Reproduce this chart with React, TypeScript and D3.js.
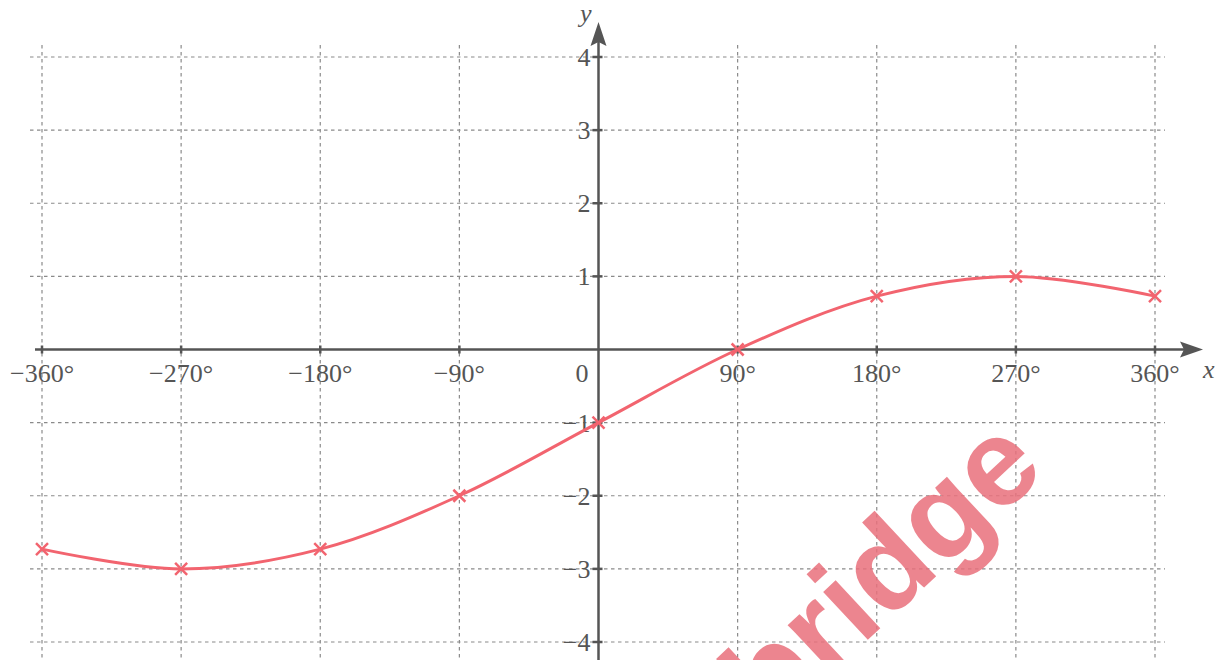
import React from "react";
import * as d3 from "d3";

// Sampled points of the plotted curve (degrees, y)
const xValues = [-360, -270, -180, -90, 0, 90, 180, 270, 360];
const yValues = [-2.73, -3, -2.73, -2, -1, 0, 0.73, 1, 0.73];

// Grid / tick positions
const xTicks = [-360, -270, -180, -90, 90, 180, 270, 360];
const yTicks = [-4, -3, -2, -1, 1, 2, 3, 4];

const W = 1225;
const H = 660;

const x = d3.scaleLinear().domain([-360, 360]).range([42, 1155]);
const y = d3.scaleLinear().domain([-4, 4]).range([642, 57]);

const fmtX = (v: number) => (v < 0 ? "\u2212" + Math.abs(v) : String(v)) + "\u00B0";
const fmtY = (v: number) => (v < 0 ? "\u2212" + Math.abs(v) : String(v));

export default function App() {
  const pts = xValues.map((v, i) => [x(v), y(yValues[i])] as [number, number]);
  const path = d3.line().curve(d3.curveCatmullRom.alpha(0.5))(pts) || "";
  const x0 = x(0);
  const y0 = y(0);
  const gridColor = "#8a8a8a";
  const axisColor = "#555";
  const labelColor = "#555";
  const font = "'Liberation Serif', 'DejaVu Serif', serif";
  const red = "#f2646f";

  return (
    <svg
      width={W}
      height={H}
      style={{ position: "absolute", left: 0, top: 0, background: "#fff" }}
    >
      {/* grid */}
      <g stroke={gridColor} strokeWidth={1.2} strokeDasharray="3.5 3.5" fill="none">
        {xTicks.map((t) => (
          <line key={"gx" + t} x1={x(t)} x2={x(t)} y1={45} y2={H} />
        ))}
        {yTicks.map((t) => (
          <line key={"gy" + t} x1={30} x2={1165} y1={y(t)} y2={y(t)} />
        ))}
      </g>

      {/* watermark */}
      <text
        transform="translate(1048,472) rotate(-43)"
        textAnchor="end"
        fontFamily="'Liberation Sans', Arial, sans-serif"
        fontWeight="bold"
        fontSize={124}
        fill="#e9707b"
        fillOpacity={0.85}
      >
        Cambridge
      </text>

      {/* axes */}
      <g stroke={axisColor} strokeWidth={2.5}>
        <line x1={35} x2={1185} y1={y0} y2={y0} />
        <line x1={x0} x2={x0} y1={H} y2={40} />
        {xTicks.map((t) => (
          <line key={"tx" + t} x1={x(t)} x2={x(t)} y1={y0 - 4} y2={y0 + 4} />
        ))}
        {yTicks.map((t) => (
          <line key={"ty" + t} x1={x0 - 6} x2={x0 + 4} y1={y(t)} y2={y(t)} />
        ))}
      </g>
      <path d={`M1203,${y0} L1180,${y0 - 8} L1184,${y0} L1180,${y0 + 8} Z`} fill={axisColor} />
      <path d={`M${x0},22 L${x0 - 8},46 L${x0},42 L${x0 + 8},46 Z`} fill={axisColor} />

      {/* axis letters */}
      <text x={1203} y={378} fontFamily={font} fontStyle="italic" fontSize={26} fill={labelColor}>
        x
      </text>
      <text x={580} y={22} fontFamily={font} fontStyle="italic" fontSize={26} fill={labelColor}>
        y
      </text>

      {/* tick labels */}
      <g fontFamily={font} fontSize={26} fill={labelColor}>
        {xTicks.map((t) => (
          <text key={"lx" + t} x={x(t)} y={382} textAnchor="middle">
            {fmtX(t)}
          </text>
        ))}
        <text x={x0 - 10} y={382} textAnchor="end">
          0
        </text>
        {yTicks.map((t) => (
          <text key={"ly" + t} x={x0 - 8} y={y(t)} dy="0.35em" textAnchor="end">
            {fmtY(t)}
          </text>
        ))}
      </g>

      {/* curve */}
      <path d={path} fill="none" stroke={red} strokeWidth={3} strokeLinejoin="round" />
      <g stroke={red} strokeWidth={2.5}>
        {pts.map(([px, py], i) => (
          <g key={"m" + i}>
            <line x1={px - 6} x2={px + 6} y1={py - 6} y2={py + 6} />
            <line x1={px - 6} x2={px + 6} y1={py + 6} y2={py - 6} />
          </g>
        ))}
      </g>
    </svg>
  );
}
